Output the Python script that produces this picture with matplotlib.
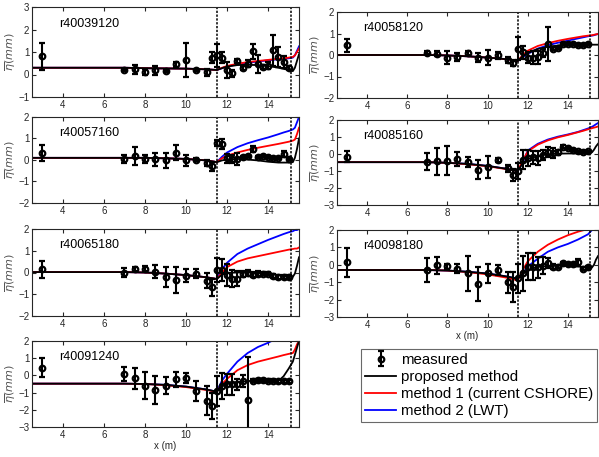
import matplotlib
matplotlib.use('Agg')
import matplotlib.pyplot as plt
import numpy as np

plt.rcParams['font.family'] = ['Liberation Sans', 'DejaVu Sans']
plt.rcParams['mathtext.fontset'] = 'dejavusans'

# measurement positions (m)
xs = [3, 7, 7.5, 8, 8.5, 9, 9.5, 10, 10.5, 11, 11.25, 11.5, 11.75, 12, 12.25, 12.5,
      12.75, 13, 13.25, 13.5, 13.75, 14, 14.25, 14.5, 14.75, 15]
# model curve positions (m)
xm = [2.5, 7, 8, 9, 10, 11, 11.5, 11.75, 12, 12.5, 13, 13.5, 14, 14.5, 14.75, 15,
      15.2, 15.3, 15.4, 15.5]

names = ['r40039120', 'r40058120', 'r40057160', 'r40085160',
         'r40065180', 'r40098180', 'r40091240']
ylims = [(-1, 3), (-2, 2), (-2, 2), (-3, 2), (-2, 2), (-3, 2), (-3, 2)]

# measured mean setup and error bar half-length
m1 = [0.81, 0.2, 0.23, 0.12, 0.2, 0.17, 0.45, 0.66, 0.2, 0.1, 0.75, 0.85, 0.75, 0.2, 0.05, 0.6, 0.3, 0.48, 1.03, 0.45, 0.33, 0.4, 1.07, 0.78, 0.55, 0.3]
e1 = [0.6, 0.05, 0.2, 0.13, 0.2, 0.05, 0.12, 0.75, 0.05, 0.15, 0.23, 0.5, 0.25, 0.35, 0.15, 0.1, 0.1, 0.15, 0.33, 0.4, 0.08, 0.15, 0.7, 0.45, 0.28, 0.1]
m2 = [0.45, 0.1, 0.06, -0.12, -0.1, 0.1, -0.12, -0.12, -0.02, -0.22, -0.36, 0.3, 0.12, -0.12, -0.12, -0.1, 0.1, 0.52, 0.3, 0.33, 0.5, 0.52, 0.52, 0.45, 0.45, 0.5]
e2 = [0.3, 0.07, 0.12, 0.3, 0.2, 0.08, 0.2, 0.35, 0.18, 0.15, 0.15, 0.52, 0.3, 0.25, 0.3, 0.3, 0.2, 0.8, 0.05, 0.05, 0.05, 0.05, 0.05, 0.05, 0.05, 0.05]
m3 = [0.34, 0.05, 0.18, 0.05, 0.03, -0.02, 0.34, -0.02, 0.02, -0.15, -0.3, 0.8, 0.74, 0.08, 0.05, 0.05, 0.15, 0.18, 0.5, 0.12, 0.18, 0.15, 0.1, 0.08, 0.27, 0.05]
e3 = [0.38, 0.2, 0.42, 0.2, 0.3, 0.35, 0.35, 0.25, 0.08, 0.15, 0.2, 0.15, 0.25, 0.2, 0.2, 0.28, 0.05, 0.05, 0.15, 0.05, 0.05, 0.05, 0.05, 0.05, 0.15, 0.05]
m4 = [-0.15, -0.47, -0.43, -0.4, -0.28, -0.47, -0.93, -0.78, -0.35, -0.85, -1.26, -1.0, -0.33, -0.23, -0.2, -0.23, -0.08, 0.1, 0.05, 0.1, 0.43, 0.35, 0.23, 0.15, 0.1, 0.15]
e4 = [0.3, 0.5, 0.8, 0.85, 0.4, 0.3, 0.55, 0.65, 0.1, 0.2, 0.35, 0.45, 0.55, 0.45, 0.4, 0.4, 0.3, 0.3, 0.3, 0.15, 0.1, 0.05, 0.05, 0.05, 0.05, 0.05]
m5 = [0.14, 0.0, 0.15, 0.17, 0.03, -0.2, -0.35, -0.15, -0.05, -0.37, -0.68, 0.1, 0.1, -0.12, -0.28, -0.28, -0.06, -0.03, -0.1, -0.06, -0.05, -0.05, -0.15, -0.22, -0.22, -0.2]
e5 = [0.4, 0.2, 0.1, 0.12, 0.3, 0.45, 0.6, 0.3, 0.2, 0.35, 0.4, 0.55, 0.5, 0.5, 0.4, 0.35, 0.15, 0.15, 0.12, 0.12, 0.08, 0.08, 0.08, 0.1, 0.1, 0.1]
m6 = [0.14, -0.3, -0.04, -0.08, -0.23, -0.5, -1.1, -0.5, -0.3, -1.0, -1.26, -0.78, -0.48, -0.1, -0.1, -0.15, -0.05, 0.1, -0.1, -0.1, 0.1, 0.05, 0.05, 0.14, -0.23, -0.15]
e6 = [0.85, 0.7, 0.5, 0.15, 0.25, 1.0, 1.0, 0.55, 0.3, 0.6, 0.85, 0.85, 1.0, 0.75, 0.8, 0.6, 0.5, 0.3, 0.15, 0.1, 0.08, 0.08, 0.08, 0.2, 0.08, 0.08]
m7 = [0.44, 0.06, -0.17, -0.6, -0.85, -0.6, -0.23, -0.17, -0.9, -1.48, -1.8, -0.9, -0.6, -0.52, -0.52, -0.52, -0.33, -1.45, -0.3, -0.28, -0.28, -0.3, -0.3, -0.35, -0.35, -0.35]
e7 = [0.55, 0.4, 0.6, 0.8, 0.8, 0.5, 0.45, 0.3, 0.6, 0.85, 0.75, 0.85, 0.75, 0.6, 0.6, 0.3, 0.35, 2.5, 0.1, 0.08, 0.08, 0.08, 0.08, 0.1, 0.1, 0.1]

# model predictions: proposed (black), method 1 (red), method 2 (blue)
k1 = [0.3, 0.3, 0.28, 0.27, 0.26, 0.23, 0.2, 0.28, 0.35, 0.42, 0.43, 0.42, 0.38, 0.3, 0.25, 0.2, 0.15, 0.3, 0.6, 0.9]
r1 = [0.3, 0.3, 0.28, 0.27, 0.26, 0.23, 0.2, 0.3, 0.38, 0.48, 0.55, 0.6, 0.65, 0.7, 0.72, 0.75, 0.78, 0.85, 1.0, 1.15]
b1 = [0.3, 0.3, 0.28, 0.27, 0.26, 0.23, 0.2, 0.28, 0.36, 0.45, 0.52, 0.58, 0.63, 0.68, 0.7, 0.72, 0.75, 0.85, 1.05, 1.25]
k2 = [0, 0, -0.02, -0.06, -0.12, -0.2, -0.28, -0.05, 0.1, 0.28, 0.38, 0.44, 0.47, 0.48, 0.48, 0.48, 0.48, 0.48, 0.48, 0.48]
r2 = [0, 0, -0.02, -0.06, -0.12, -0.2, -0.28, 0.0, 0.2, 0.42, 0.55, 0.66, 0.75, 0.83, 0.87, 0.9, 0.92, 0.94, 0.96, 0.98]
b2 = [0, 0, -0.02, -0.06, -0.12, -0.2, -0.28, -0.1, 0.05, 0.3, 0.45, 0.57, 0.67, 0.77, 0.82, 0.87, 0.9, 0.92, 0.95, 0.98]
k3 = [0.1, 0.1, 0.1, 0.08, 0.05, -0.02, -0.1, -0.02, 0.03, 0.05, 0.02, -0.02, -0.08, -0.12, -0.12, -0.12, -0.1, 0.1, 0.5, 1.0]
r3 = [0.1, 0.1, 0.1, 0.08, 0.05, -0.02, -0.1, 0.08, 0.2, 0.35, 0.47, 0.57, 0.66, 0.75, 0.8, 0.85, 0.9, 0.95, 1.2, 1.5]
b3 = [0.1, 0.1, 0.1, 0.08, 0.05, -0.02, -0.1, 0.15, 0.35, 0.6, 0.78, 0.92, 1.05, 1.2, 1.28, 1.35, 1.42, 1.5, 1.75, 2.0]
k4 = [-0.48, -0.48, -0.52, -0.58, -0.7, -0.88, -1.0, -0.55, -0.3, -0.12, -0.02, 0.02, 0.03, 0.03, 0.04, 0.05, 0.1, 0.25, 0.45, 0.6]
r4 = [-0.48, -0.48, -0.52, -0.6, -0.72, -0.9, -1.0, -0.4, 0.15, 0.55, 0.8, 0.98, 1.12, 1.28, 1.36, 1.45, 1.52, 1.55, 1.58, 1.62]
b4 = [-0.48, -0.48, -0.52, -0.58, -0.7, -0.88, -1.0, -0.5, 0.2, 0.6, 0.85, 1.02, 1.15, 1.3, 1.4, 1.5, 1.6, 1.67, 1.75, 1.82]
k5 = [0.02, 0.02, 0.0, -0.05, -0.12, -0.22, -0.3, -0.1, -0.02, 0.0, 0.0, -0.02, -0.06, -0.12, -0.16, -0.2, -0.2, -0.05, 0.3, 0.7]
r5 = [0.02, 0.02, 0.0, -0.05, -0.12, -0.22, -0.3, 0.0, 0.25, 0.5, 0.65, 0.75, 0.85, 0.95, 1.0, 1.05, 1.08, 1.1, 1.1, 1.15]
b5 = [0.02, 0.02, 0.0, -0.05, -0.12, -0.22, -0.3, 0.15, 0.45, 0.85, 1.1, 1.3, 1.5, 1.68, 1.77, 1.85, 1.9, 1.95, 1.95, 2.0]
k6 = [-0.3, -0.3, -0.33, -0.4, -0.5, -0.68, -0.8, -0.55, -0.3, -0.12, -0.07, -0.05, -0.07, -0.1, -0.12, -0.15, -0.15, 0.0, 0.3, 0.5]
r6 = [-0.3, -0.3, -0.33, -0.42, -0.55, -0.75, -0.9, -0.3, 0.2, 0.75, 1.15, 1.45, 1.7, 1.9, 1.98, 2.05, 2.1, 2.15, 2.2, 2.2]
b6 = [-0.3, -0.3, -0.33, -0.4, -0.5, -0.68, -0.8, -0.5, -0.1, 0.35, 0.75, 1.0, 1.2, 1.45, 1.6, 1.75, 2.0, 2.1, 2.15, 2.2]
k7 = [-0.48, -0.48, -0.5, -0.55, -0.65, -0.82, -0.95, -0.65, -0.5, -0.4, -0.33, -0.3, -0.32, -0.32, -0.05, 0.4, 0.8, 1.2, 1.6, 2.0]
r7 = [-0.48, -0.48, -0.5, -0.57, -0.68, -0.85, -0.95, -0.5, -0.2, 0.3, 0.6, 0.8, 0.95, 1.1, 1.18, 1.25, 1.3, 1.5, 1.8, 2.0]
b7 = [-0.48, -0.48, -0.5, -0.55, -0.65, -0.82, -0.95, -0.3, 0.1, 0.8, 1.3, 1.65, 1.9, 2.2, 2.3, 2.4, 2.5, 2.5, 2.5, 2.5]

means = [m1, m2, m3, m4, m5, m6, m7]
errs = [e1, e2, e3, e4, e5, e6, e7]
black = [k1, k2, k3, k4, k5, k6, k7]
red = [r1, r2, r3, r4, r5, r6, r7]
blue = [b1, b2, b3, b4, b5, b6, b7]

W, H = 599.0, 457.0
# axes boxes in pixels: (left, top, right, bottom)
boxes = [(32, 7, 299, 97), (337, 12, 598, 98),
         (32, 117, 299, 203), (337, 120, 598, 205),
         (32, 229, 299, 316), (337, 230, 598, 317),
         (32, 341, 299, 427)]

fig = plt.figure(figsize=(5.99, 4.57), dpi=100)
gray = '#262626'

for i in range(7):
    l, t, r, b = boxes[i]
    ax = fig.add_axes([l / W, 1 - b / H, (r - l) / W, (b - t) / H])
    ax.plot(xm, blue[i], color='blue', lw=1.3, label='method 2 (LWT)')
    ax.plot(xm, red[i], color='red', lw=1.3, label='method 1 (current CSHORE)')
    ax.plot(xm, black[i], color='black', lw=1.3, label='proposed method')
    ax.errorbar(xs, means[i], yerr=errs[i], fmt='o', color='black', ms=4,
                mfc='none', mew=1.6, elinewidth=1.5, capsize=2, capthick=1.2,
                label='measured', zorder=5)
    ax.axvline(11.5, color='black', ls=(0, (1.5, 1)), lw=1.1)
    ax.axvline(15.1, color='black', ls=(0, (1.5, 1)), lw=1.1)
    ax.set_xlim(2.5, 15.5)
    ax.set_ylim(*ylims[i])
    ax.set_xticks([4, 6, 8, 10, 12, 14])
    ax.set_yticks(np.arange(ylims[i][0], ylims[i][1] + 1))
    ax.tick_params(direction='in', length=3, labelsize=7, colors=gray,
                   top=True, right=True, pad=2)
    for s in ax.spines.values():
        s.set_color(gray)
        s.set_linewidth(0.8)
    ax.set_ylabel(r'$\overline{\eta}(mm)$', fontsize=8, color='#555555',
                  labelpad=0)
    ax.text(0.1, 0.78, names[i], transform=ax.transAxes, fontsize=9)
    if i in (5, 6):
        ax.set_xlabel('x (m)', fontsize=7, color=gray, labelpad=1)
    if i == 0:
        handles, labels = ax.get_legend_handles_labels()

order = [3, 2, 1, 0]
leg = fig.legend([handles[j] for j in order], [labels[j] for j in order],
                 loc='upper left', bbox_to_anchor=(361 / W, 1 - 349 / H),
                 fontsize=10.8, frameon=True, fancybox=False,
                 edgecolor='#444444', handlelength=2.1, labelspacing=0.2,
                 borderpad=0.25, handletextpad=0.3, borderaxespad=0)
leg.get_frame().set_linewidth(0.8)

fig.savefig('out.png', dpi=100)
